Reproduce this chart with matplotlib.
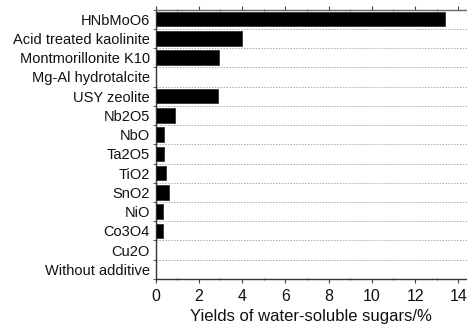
import matplotlib
matplotlib.use("Agg")
import matplotlib.pyplot as plt
from matplotlib.ticker import MultipleLocator
import numpy as np

plt.rcParams['font.family'] = ['Liberation Sans', 'DejaVu Sans']

additives = ["HNbMoO6", "Acid treated kaolinite", "Montmorillonite K10",
             "Mg-Al hydrotalcite", "USY zeolite", "Nb2O5", "NbO", "Ta2O5",
             "TiO2", "SnO2", "NiO", "Co3O4", "Cu2O", "Without additive"]
yields = [13.4, 4.0, 2.95, 0.02, 2.87, 0.9, 0.38, 0.4, 0.5, 0.62, 0.33, 0.33, 0.0, 0.0]
xticks = [0, 2, 4, 6, 8, 10, 12, 14]

fig = plt.figure(figsize=(4.67, 3.28), dpi=100)
ax = fig.add_axes([0.333, 0.1494, 0.667, 0.8216])

pos = np.arange(len(additives))
ax.barh(pos, yields, height=0.75, color="black", edgecolor="#333333", linewidth=0.6, zorder=3)

ax.set_ylim(len(additives) - 0.5, -0.5)
ax.set_xlim(0, 14.4)
ax.set_yticks(pos)
ax.set_yticklabels(additives, fontsize=10.5, color="#111111")
ax.set_xticks(xticks)
ax.set_xticklabels([str(t) for t in xticks], fontsize=11.5, color="#111111")
ax.xaxis.set_minor_locator(MultipleLocator(1))

# row separators
for b in np.arange(0.5, len(additives) - 0.5, 1.0):
    ax.axhline(b, color="#aaaaaa", linestyle=(0, (1.5, 1.5)), linewidth=0.7, zorder=1)

ax.set_yticks(np.arange(-0.5, len(additives), 1.0), minor=True)
ax.tick_params(axis="y", which="major", length=0, pad=4)
ax.tick_params(axis="y", which="minor", length=2, direction="out", color="#444444")
ax.tick_params(axis="x", which="major", length=3, direction="out", color="#444444", pad=4)
ax.tick_params(axis="x", which="minor", length=2, direction="inout", color="#444444")
ax.tick_params(axis="x", which="both", top=True)

ax.spines["right"].set_visible(False)
ax.spines["top"].set_color("#666666")
ax.spines["left"].set_color("#333333")
ax.spines["bottom"].set_color("#333333")
for s in ax.spines.values():
    s.set_linewidth(1.0)

ax.set_xlabel("Yields of water-soluble sugars/%", fontsize=12, color="#111111")
ax.xaxis.set_label_coords(0.5, -0.141)
ax.xaxis.label.set_va("center")

fig.savefig("out.png", dpi=100)
